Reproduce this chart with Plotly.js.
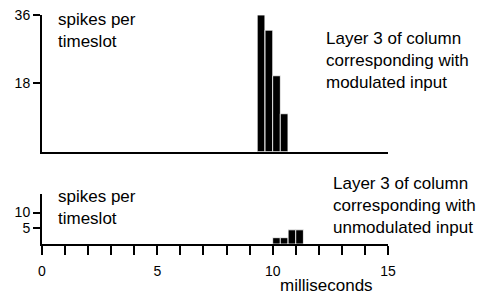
<!DOCTYPE html>
<html>
<head>
<meta charset="utf-8">
<script src="https://cdn.plot.ly/plotly-3.0.1.min.js"></script>
<style>html,body{margin:0;padding:0;background:#fff;}#chart{width:485px;height:294px;}</style>
</head>
<body>
<div id="chart"></div>
<script>
// Data (time slot starts in ms, spikes per timeslot)
const slotWidth = 1 / 3;
const modulatedSlotStart = [9.33, 9.67, 10.0, 10.33];
const modulatedSpikes = [36, 32, 20, 10];
const unmodulatedSlotStart = [10.0, 10.33, 10.67, 11.0];
const unmodulatedSpikes = [2, 2, 4.5, 4.5];
const xTickVals = [0, 5, 10, 15];
const xTickText = ['0', '5', '10', '15'];
const topYTickVals = [18, 36];
const bottomYTickVals = [5, 10];

const FONT = 'Liberation Sans, Arial, Helvetica, sans-serif';

const traces = [
  {
    type: 'bar', x: modulatedSlotStart, y: modulatedSpikes,
    width: slotWidth, offset: 0, xaxis: 'x2', yaxis: 'y2',
    marker: {color: '#000', line: {color: '#fff', width: 0.8}},
    hoverinfo: 'skip'
  },
  {
    type: 'bar', x: unmodulatedSlotStart, y: unmodulatedSpikes,
    width: slotWidth, offset: 0, xaxis: 'x', yaxis: 'y',
    marker: {color: '#000', line: {color: '#fff', width: 0.8}},
    hoverinfo: 'skip'
  }
];

const layout = {
  width: 485, height: 294,
  margin: {l: 42, r: 97, t: 15, b: 50, pad: 0},
  paper_bgcolor: '#fff', plot_bgcolor: '#fff',
  showlegend: false,
  font: {family: FONT, size: 14, color: '#000'},
  xaxis: {
    domain: [0, 1], range: [0, 15], anchor: 'y',
    showline: true, linecolor: '#000', linewidth: 2,
    showgrid: false, zeroline: false,
    tickmode: 'array', tickvals: xTickVals, ticktext: xTickText,
    ticks: 'outside', ticklen: 9, tickwidth: 2, tickcolor: '#000',
    ticklabelstandoff: 4,
    minor: {dtick: 1, ticks: 'outside', ticklen: 9, tickwidth: 2, tickcolor: '#000', showgrid: false},
    tickfont: {family: FONT, size: 14, color: '#000'}
  },
  yaxis: {
    domain: [0, 0.22], range: [0, 16], anchor: 'x',
    showline: true, linecolor: '#000', linewidth: 2,
    showgrid: false, zeroline: false,
    tickmode: 'array', tickvals: bottomYTickVals,
    ticks: 'outside', ticklen: 7, tickwidth: 2, tickcolor: '#000',
    tickfont: {family: FONT, size: 14, color: '#000'}
  },
  xaxis2: {
    domain: [0, 1], range: [0, 15], anchor: 'y2', matches: 'x',
    showline: true, linecolor: '#000', linewidth: 2,
    showgrid: false, zeroline: false, ticks: '', showticklabels: false
  },
  yaxis2: {
    domain: [0.403, 1], range: [0, 36], anchor: 'x2',
    showline: true, linecolor: '#000', linewidth: 2,
    showgrid: false, zeroline: false,
    tickmode: 'array', tickvals: topYTickVals,
    ticks: 'outside', ticklen: 7, tickwidth: 2, tickcolor: '#000',
    tickfont: {family: FONT, size: 14, color: '#000'}
  },
  annotations: [
    {text: 'spikes per<br>timeslot', xref: 'paper', yref: 'paper',
     x: 0.040, y: 0.932, xanchor: 'left', yanchor: 'middle', align: 'left',
     showarrow: false, font: {family: FONT, size: 17, color: '#000'}},
    {text: 'Layer 3 of column<br>corresponding with<br>modulated input', xref: 'paper', yref: 'paper',
     x: 0.816, y: 0.801, xanchor: 'left', yanchor: 'middle', align: 'left',
     showarrow: false, font: {family: FONT, size: 17, color: '#000'}},
    {text: 'spikes per<br>timeslot', xref: 'paper', yref: 'paper',
     x: 0.040, y: 0.160, xanchor: 'left', yanchor: 'middle', align: 'left',
     showarrow: false, font: {family: FONT, size: 17, color: '#000'}},
    {text: 'Layer 3 of column<br>corresponding with<br>unmodulated input', xref: 'paper', yref: 'paper',
     x: 0.836, y: 0.168, xanchor: 'left', yanchor: 'middle', align: 'left',
     showarrow: false, font: {family: FONT, size: 17, color: '#000'}},
    {text: 'milliseconds', xref: 'paper', yref: 'paper',
     x: 0.823, y: -0.182, xanchor: 'center', yanchor: 'middle',
     showarrow: false, font: {family: FONT, size: 17, color: '#000'}}
  ]
};

Plotly.newPlot('chart', traces, layout, {displayModeBar: false, staticPlot: true});
</script>
</body>
</html>
